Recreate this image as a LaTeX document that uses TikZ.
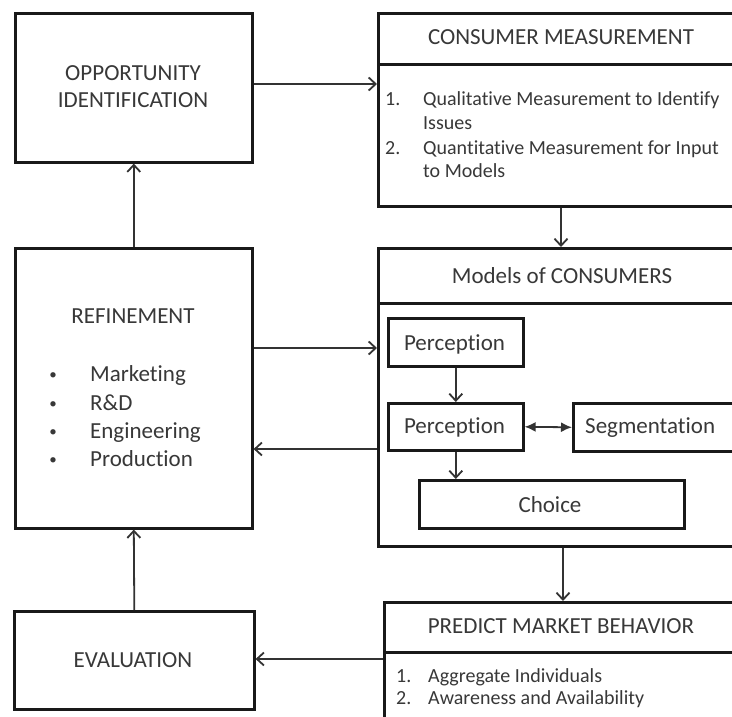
\documentclass[tikz,border=0pt]{standalone}
\usepackage{fontspec}
\setmainfont{Carlito}[Ligatures=NoCommon]
\usetikzlibrary{arrows.meta}
\begin{document}
\begin{tikzpicture}[x=1pt,y=-1pt,
  box/.style={draw=black!90, line width=2.6pt, fill=white, inner sep=0pt, anchor=north west},
  conn/.style={draw=black!80, line width=1.8pt, -{Straight Barb[length=7pt,width=13pt,line width=1.8pt]}},
  twoway/.style={draw=black!80, line width=1.8pt, {Latex[length=11pt,width=10pt]}-{Latex[length=11pt,width=10pt]}},
  big/.style={font=\fontsize{23}{27}\selectfont, text=black!78, inner sep=0pt},
  small/.style={font=\fontsize{20}{24}\selectfont, text=black!78, inner sep=0pt},
  dot/.style={font=\fontsize{15}{18}\selectfont, text=black!78, inner sep=0pt},
]
\useasboundingbox (0,0) rectangle (732,717);
\clip (0,0) rectangle (732,717);
\fill[white] (0,0) rectangle (732,717);

% left column
\node[box, minimum width=237pt, minimum height=149pt] (opp) at (14,12) {};
\node[box, minimum width=237pt, minimum height=280pt] (ref) at (14,247) {};
\node[box, minimum width=240pt, minimum height=98pt] (eval) at (13,610) {};

% right column: titled panels running past the right edge
\node[box, minimum width=370pt, minimum height=51pt] (cmhead) at (377,12) {};
\node[box, minimum width=370pt, minimum height=142pt] (cmbody) at (377,63) {};
\node[box, minimum width=370pt, minimum height=55pt] (mhead) at (377,247) {};
\node[box, minimum width=370pt, minimum height=243pt] (mbody) at (377,302) {};
\node[box, minimum width=364pt, minimum height=50pt] (phead) at (383,601) {};
\node[box, minimum width=364pt, minimum height=80pt] (pbody) at (383,651) {};

% inner model boxes
\node[box, minimum width=135pt, minimum height=48pt] (p1) at (387,317) {};
\node[box, minimum width=135pt, minimum height=47pt] (p2) at (387,402) {};
\node[box, minimum width=175pt, minimum height=48pt] (seg) at (572,402) {};
\node[box, minimum width=265pt, minimum height=48pt] (choice) at (418,479) {};

% texts
\node[big, anchor=base] (t-opp1) at (133,81) {OPPORTUNITY};
\node[big, anchor=base] (t-opp2) at (133,108) {IDENTIFICATION};

\node[big, anchor=base] (t-ref) at (133,323) {REFINEMENT};
\foreach \y/\w [count=\i] in {381/Marketing, 410/R\&D, 438/Engineering, 466/Production}{
  \node[dot, anchor=base] (t-dot\i) at (53,\y-2) {•};
  \node[big, anchor=base west] (t-ref\i) at (90,\y) {\w};
}
\node[big, anchor=base] (t-eval) at (133,667) {EVALUATION};

\node[big, anchor=base] (t-cm) at (561,45) {CONSUMER MEASUREMENT};
\node[small, anchor=base west] (t-cmn1) at (385,106) {1.};
\node[small, anchor=base west] (t-cm1) at (423,106) {Qualitative Measurement to Identify};
\node[small, anchor=base west] (t-cm1b) at (423,129) {Issues};
\node[small, anchor=base west] (t-cmn2) at (385,154) {2.};
\node[small, anchor=base west] (t-cm2) at (423,154) {Quantitative Measurement for Input};
\node[small, anchor=base west] (t-cm2b) at (423,178) {to Models};

\node[big, anchor=base] (t-m) at (562,283) {Models of CONSUMERS};
\node[big, anchor=base] (t-p1) at (454.5,350) {Perception};
\node[big, anchor=base] (t-p2) at (454.5,433) {Perception};
\node[big, anchor=base west] (t-seg) at (585,433) {Segmentation};
\node[big, anchor=base] (t-choice) at (550,512) {Choice};

\node[big, anchor=base] (t-p) at (561,633) {PREDICT MARKET BEHAVIOR};
\node[small, anchor=base west] (t-pn1) at (396,682) {1.};
\node[small, anchor=base west] (t-p1i) at (428,682) {Aggregate Individuals};
\node[small, anchor=base west] (t-pn2) at (396,704) {2.};
\node[small, anchor=base west] (t-p2i) at (428,704) {Awareness and Availability};

% connectors
\draw[conn] (opp.east |- 0,84) -- (cmbody.west |- 0,84);
\draw[conn] (ref.north) -- (opp.south);
\draw[conn] (cmbody.south -| 561,0) -- (mhead.north -| 561,0);
\draw[conn] (ref.east |- 0,348) -- (mbody.west |- 0,348);
\draw[conn] (mbody.west |- 0,449) -- (ref.east |- 0,449);
\draw[conn] (p1.south) -- (p2.north);
\draw[twoway] (p2.east) -- (seg.west);
\draw[conn] (p2.south) -- (p2.south |- choice.north);
\draw[conn] (mbody.south -| 563,0) -- (phead.north -| 563,0);
\draw[conn] (pbody.west |- 0,659) -- (eval.east |- 0,659);
\draw[conn] (eval.north) -- (ref.south);
\end{tikzpicture}
\end{document}
